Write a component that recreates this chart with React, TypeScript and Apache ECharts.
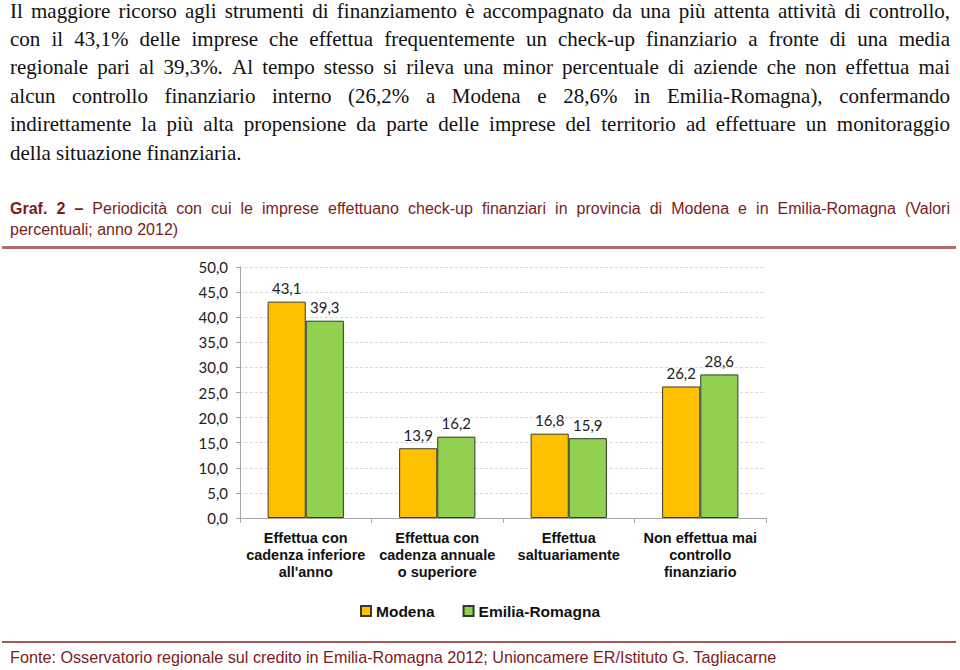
import React, { useEffect, useRef } from "react";
import * as echarts from "echarts";

const categories = [
  "Effettua con\ncadenza inferiore\nall'anno",
  "Effettua con\ncadenza annuale\no superiore",
  "Effettua\nsaltuariamente",
  "Non effettua mai\ncontrollo\nfinanziario",
];
const seriesNames = ["Modena", "Emilia-Romagna"];
const modena = [43.1, 13.9, 16.8, 26.2];
const emiliaRomagna = [39.3, 16.2, 15.9, 28.6];

const paragraphLines = [
  "Il maggiore ricorso agli strumenti di finanziamento è accompagnato da una più attenta attività di controllo,",
  "con il 43,1% delle imprese che effettua frequentemente un check-up finanziario a fronte di una media",
  "regionale pari al 39,3%. Al tempo stesso si rileva una minor percentuale di aziende che non effettua mai",
  "alcun controllo finanziario interno (26,2% a Modena e 28,6% in Emilia-Romagna), confermando",
  "indirettamente la più alta propensione da parte delle imprese del territorio ad effettuare un monitoraggio",
  "della situazione finanziaria.",
];
const captionBold = "Graf. 2 –";
const captionLine1 = "Periodicità con cui le imprese effettuano check-up finanziari in provincia di Modena e in Emilia-Romagna (Valori";
const captionLine2 = "percentuali; anno 2012)";
const sourceText = "Fonte: Osservatorio regionale sul credito in Emilia-Romagna 2012; Unioncamere ER/Istituto G. Tagliacarne";

const fmt = (v: number) => v.toFixed(1).replace(".", ",");

type Word = { text: string; bold?: boolean };

function justified(
  words: Word[],
  x0: number,
  x1: number,
  y: number,
  family: string,
  size: number,
  fill: string
): any[] {
  const canvas = document.createElement("canvas");
  const ctx = canvas.getContext("2d")!;
  const widths = words.map((w) => {
    ctx.font = (w.bold ? "bold " : "") + size + "px " + family;
    return ctx.measureText(w.text).width;
  });
  const total = widths.reduce((a, b) => a + b, 0);
  const gap = words.length > 1 ? (x1 - x0 - total) / (words.length - 1) : 0;
  let x = x0;
  return words.map((w, i) => {
    const el = {
      type: "text",
      x,
      y,
      style: {
        text: w.text,
        fontFamily: family,
        fontSize: size,
        fontWeight: w.bold ? "bold" : "normal",
        fill,
        verticalAlign: "middle",
      },
    };
    x += widths[i] + gap;
    return el;
  });
}

export default function App() {
  const ref = useRef<HTMLDivElement>(null);
  useEffect(() => {
    if (!ref.current) return;
    const chart = echarts.init(ref.current, null, { renderer: "svg" });
    const serif = "'Liberation Serif', serif";
    const sans = "'Liberation Sans', Arial, sans-serif";
    const calibri = "Lato, 'Open Sans', sans-serif";
    const darkRed = "#7a1c1c";
    const graphics: any[] = [];
    const pSize = 21;
    paragraphLines.forEach((line, i) => {
      const y = 10.5 + i * 28.4;
      if (i < paragraphLines.length - 1) {
        graphics.push(
          ...justified(
            line.split(" ").map((t) => ({ text: t })),
            10,
            950,
            y,
            serif,
            pSize,
            "#111"
          )
        );
      } else {
        graphics.push({
          type: "text",
          x: 10,
          y,
          style: { text: line, fontFamily: serif, fontSize: pSize, fill: "#111", verticalAlign: "middle" },
        });
      }
    });
    const capSize = 16;
    const capWords: Word[] = [
      ...captionBold.split(" ").map((t) => ({ text: t, bold: true })),
      ...captionLine1.split(" ").map((t) => ({ text: t })),
    ];
    graphics.push(...justified(capWords, 10, 950, 208, sans, capSize, darkRed));
    graphics.push({
      type: "text",
      x: 10,
      y: 229,
      style: { text: captionLine2, fontFamily: sans, fontSize: capSize, fill: darkRed, verticalAlign: "middle" },
    });
    graphics.push({
      type: "rect",
      shape: { x: 2, y: 246, width: 954, height: 3 },
      style: { fill: "#ae6e6e" },
    });
    graphics.push({
      type: "rect",
      shape: { x: 2, y: 641, width: 954, height: 2 },
      style: { fill: "#a05858" },
    });
    graphics.push({
      type: "text",
      x: 10,
      y: 657,
      style: {
        text: sourceText,
        fontFamily: sans,
        fontSize: 16.2,
        fill: darkRed,
        verticalAlign: "middle",
      },
    });

    chart.setOption({
      animation: false,
      backgroundColor: "#fff",
      graphic: graphics,
      grid: { left: 240, right: 194, top: 267, bottom: 152, containLabel: false },
      legend: {
        data: seriesNames,
        left: "center",
        top: 598,
        itemWidth: 10,
        itemHeight: 10,
        itemGap: 28,
        textStyle: { fontFamily: sans, fontSize: 15.5, fontWeight: "bold", color: "#111" },
        icon: "rect",
      },
      xAxis: {
        type: "category",
        data: categories,
        axisLine: { lineStyle: { color: "#a6a6a6" } },
        axisTick: { show: true, length: 5, lineStyle: { color: "#a6a6a6" } },
        axisLabel: {
          interval: 0,
          fontFamily: sans,
          fontSize: 14.5,
          fontWeight: "bold",
          color: "#111",
          lineHeight: 17,
          margin: 11,
        },
      },
      yAxis: {
        type: "value",
        min: 0,
        max: 50,
        interval: 5,
        axisLine: { show: true, lineStyle: { color: "#a6a6a6" } },
        axisTick: { show: true, length: 4, lineStyle: { color: "#a6a6a6" } },
        axisLabel: {
          fontFamily: calibri,
          fontSize: 15,
          color: "#222",
          margin: 12,
          formatter: (v: number) => fmt(v),
        },
        splitLine: { lineStyle: { color: "#d9d9d9", type: [3, 2] } },
      },
      series: [
        {
          name: seriesNames[0],
          type: "bar",
          data: modena,
          barGap: "0%",
          barCategoryGap: "42%",
          itemStyle: { color: "#ffc000", borderColor: "#3b3b2b", borderWidth: 1 },
          label: {
            show: true,
            position: "top",
            distance: 6,
            fontFamily: calibri,
            fontSize: 15,
            color: "#222",
            formatter: (p: any) => fmt(p.value),
          },
        },
        {
          name: seriesNames[1],
          type: "bar",
          data: emiliaRomagna,
          barGap: "0%",
          barCategoryGap: "42%",
          itemStyle: { color: "#92d050", borderColor: "#2b3b2b", borderWidth: 1 },
          label: {
            show: true,
            position: "top",
            distance: 6,
            fontFamily: calibri,
            fontSize: 15,
            color: "#222",
            formatter: (p: any) => fmt(p.value),
          },
        },
      ],
    });
    return () => chart.dispose();
  }, []);
  return (
    <div
      ref={ref}
      style={{ position: "absolute", left: 0, top: 0, width: 960, height: 670 }}
    />
  );
}
